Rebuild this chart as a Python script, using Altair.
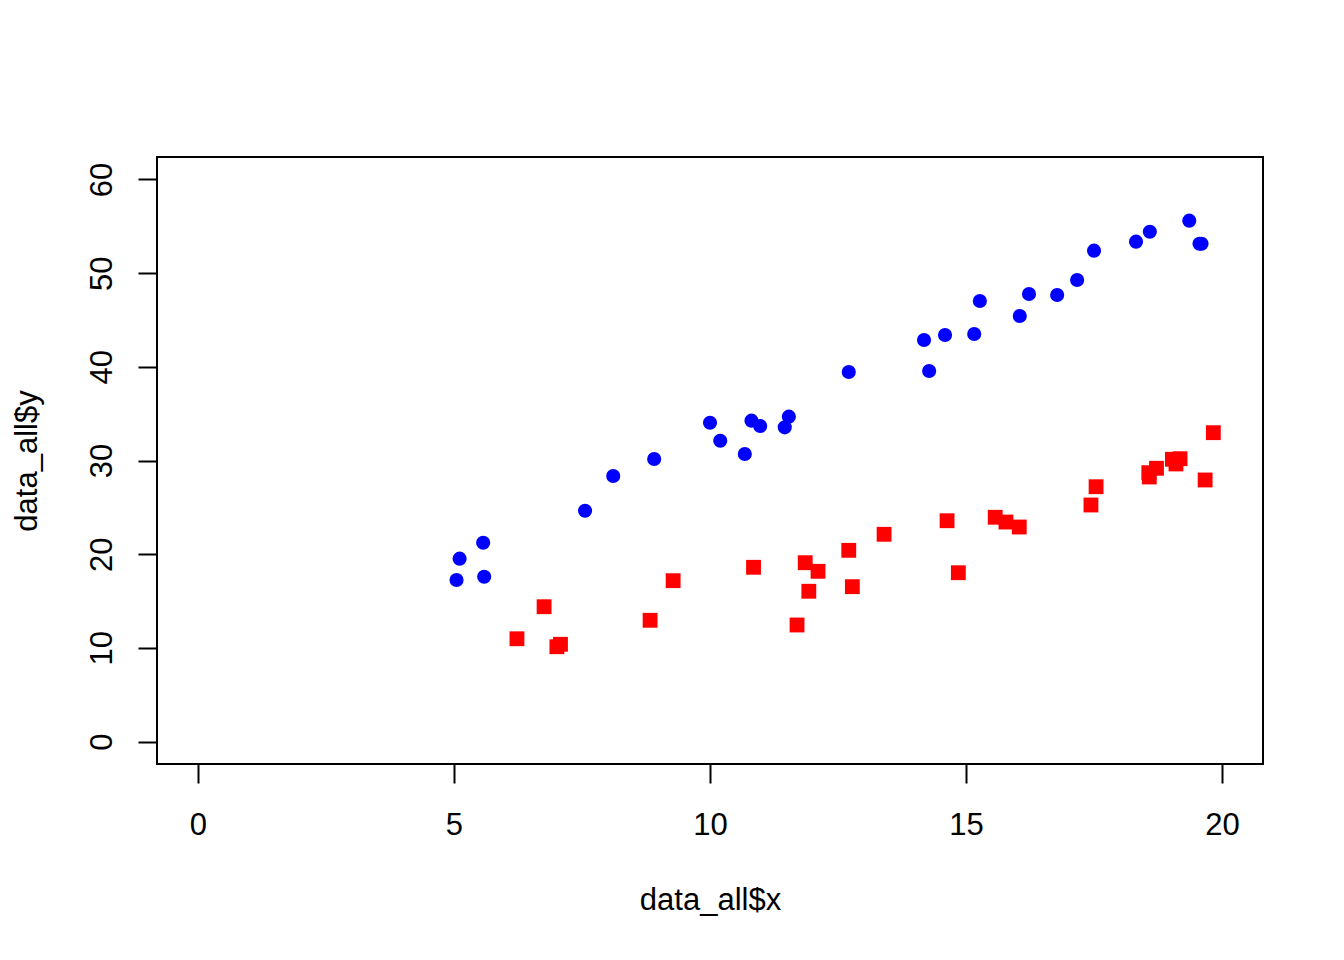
import altair as alt
import pandas as pd

# Blue series (circles)
blue_x = [5.05, 5.11, 5.57, 5.59, 7.56, 8.11, 8.91, 10.00, 10.20, 10.68,
          10.81, 10.98, 11.46, 11.54, 12.71, 14.18, 14.28, 14.59, 15.16, 15.27,
          16.05, 16.23, 16.78, 17.17, 17.50, 18.32, 18.59, 19.36, 19.56, 19.60]
blue_y = [17.24, 19.52, 21.22, 17.59, 24.64, 28.34, 30.16, 34.03, 32.11, 30.69,
          34.25, 33.68, 33.54, 34.68, 39.45, 42.86, 39.55, 43.40, 43.50, 47.03,
          45.43, 47.77, 47.67, 49.27, 52.40, 53.36, 54.42, 55.60, 53.14, 53.14]

# Red series (squares)
red_x = [6.23, 6.76, 7.01, 7.08, 8.83, 9.28, 10.85, 11.70, 11.86, 11.93,
         12.11, 12.71, 12.78, 13.40, 14.63, 14.85, 15.57, 15.78, 16.04, 17.44,
         17.54, 18.57, 18.58, 18.72, 19.03, 19.10, 19.18, 19.67, 19.83]
red_y = [10.97, 14.39, 10.12, 10.38, 12.94, 17.17, 18.60, 12.44, 19.09, 16.04,
         18.17, 20.41, 16.53, 22.12, 23.57, 18.02, 23.94, 23.43, 22.90, 25.25,
         27.20, 28.70, 28.24, 29.17, 30.13, 29.63, 30.19, 27.92, 32.97]

x_ticks = [0, 5, 10, 15, 20]
y_ticks = [0, 10, 20, 30, 40, 50, 60]

blue_df = pd.DataFrame({"x": blue_x, "y": blue_y})
red_df = pd.DataFrame({"x": red_x, "y": red_y})

FONT = "Liberation Sans"

xenc = alt.X(
    "x:Q",
    scale=alt.Scale(domain=[-0.8, 20.8], nice=False, zero=False),
    axis=alt.Axis(
        values=x_ticks, title="data_all$x", labelPadding=27,
        titleX=553, titleY=136, titleBaseline="middle", titleAlign="center",
    ),
)
yenc = alt.Y(
    "y:Q",
    scale=alt.Scale(domain=[-2.4, 62.4], nice=False, zero=False),
    axis=alt.Axis(
        values=y_ticks, title="data_all$y", labelAngle=-90, labelPadding=20,
        labelAlign="center", labelBaseline="bottom",
        titleAngle=-90, titleX=-130, titleY=303.5,
        titleBaseline="middle", titleAlign="center",
    ),
)

blue = alt.Chart(blue_df).mark_point(
    shape="circle", filled=True, size=200, color="#0000FF", opacity=1
).encode(x=xenc, y=yenc)

red = alt.Chart(red_df).mark_point(
    shape="square", filled=True, size=220, color="#FF0000", opacity=1
).encode(x=xenc, y=yenc)

chart = (
    alt.layer(blue, red)
    .properties(
        width=1106, height=607,
        autosize=alt.AutoSizeParams(type="none"),
        padding={"left": 149, "top": 149, "right": 70, "bottom": 190},
        background="white",
    )
    .configure_view(stroke="black", strokeWidth=2)
    .configure_axis(
        domain=False, grid=False,
        tickSize=19, tickWidth=2, tickColor="black",
        labelFont=FONT, labelFontSize=31, labelColor="black",
        titleFont=FONT, titleFontSize=31, titleFontWeight="normal", titleColor="black",
    )
)

chart.save("out.html", embed_options={"renderer": "svg", "actions": False})
